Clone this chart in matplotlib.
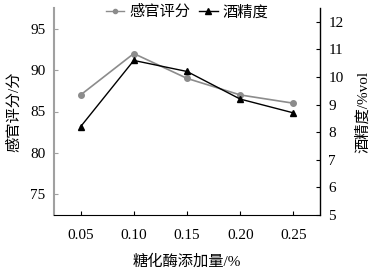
import numpy as np
import matplotlib as mpl

mpl.use('Agg')
import matplotlib.pyplot as plt
from matplotlib.lines import Line2D

plt.rcParams['font.family'] = ['Liberation Serif', 'Noto Sans CJK SC']
plt.rcParams['font.size'] = 11

# data
dose = [0.05, 0.10, 0.15, 0.20, 0.25]
score = [87.0, 92.0, 89.0, 87.0, 86.0]
alcohol = [8.2, 10.6, 10.2, 9.2, 8.7]
xticks = ['0.05', '0.10', '0.15', '0.20', '0.25']

grey = '#8c8c8c'

fig = plt.figure(figsize=(3.71, 2.70), dpi=100)
ax = fig.add_axes([54 / 371, 1 - 215 / 270, (320 - 54) / 371, (215 - 8) / 270])
ax2 = ax.twinx()

ax.plot(dose, score, color=grey, marker='o', markersize=4, linewidth=1.2)
ax2.plot(dose, alcohol, color='black', marker='^', markersize=5, linewidth=1.0)

ax.set_xlim(0.025, 0.275)
ax.set_xticks(dose)
ax.set_xticklabels(xticks)
ax.set_ylim(72.5, 97.5)
ax.set_yticks([75, 80, 85, 90, 95])
ax2.set_ylim(5, 12.5)
ax2.set_yticks(np.arange(5, 13, 1))

ax.set_xlabel('糖化酶添加量/%', labelpad=9)
ax.set_ylabel('感官评分/分', labelpad=7)
ax2.set_ylabel('酒精度/%vol', labelpad=9)

for a in (ax, ax2):
    a.tick_params(direction='in', length=3, width=0.8, pad=6)
    a.spines['top'].set_visible(False)
ax.tick_params(axis='x', pad=10)
ax.spines['left'].set_color('#a0a0a0')
ax.spines['left'].set_linewidth(1.5)
ax.tick_params(axis='y', colors='#a0a0a0', labelcolor='black')
ax.spines['right'].set_visible(False)
ax2.spines['left'].set_visible(False)
ax2.spines['right'].set_linewidth(1.0)
ax2.spines['bottom'].set_visible(False)

handles = [Line2D([], [], color=grey, marker='o', markersize=3, linewidth=1.0),
           Line2D([], [], color='black', marker='^', markersize=4, linewidth=1.0)]
ax2.legend(handles, ['感官评分', '酒精度'], loc='upper center', ncol=2,
           frameon=False, handlelength=1.2, handletextpad=0.3, columnspacing=0.6,
           borderaxespad=-0.6, fontsize=11)

fig.savefig('out.png', dpi=100)
